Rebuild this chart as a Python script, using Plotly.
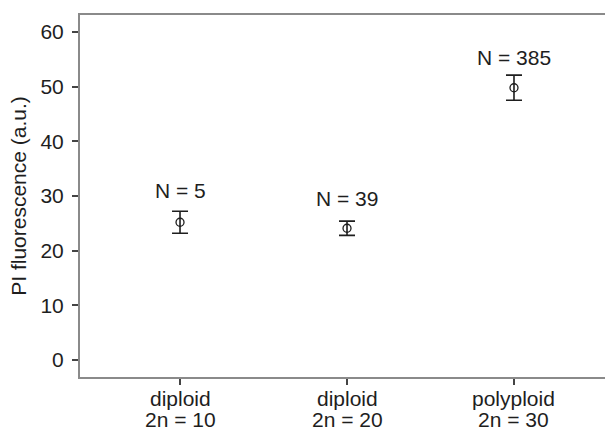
import plotly.graph_objects as go

# Data
group_names = ["diploid", "diploid", "polyploid"]
chromosome_labels = ["2n = 10", "2n = 20", "2n = 30"]
means = [25.2, 24.1, 49.8]
errors = [2.0, 1.3, 2.3]
n_labels = ["N = 5", "N = 39", "N = 385"]
label_y = [31.0, 29.6, 55.3]
y_ticks = [0, 10, 20, 30, 40, 50, 60]

xpos = list(range(len(group_names)))
font_family = "Liberation Sans, Arial, Helvetica, sans-serif"
FS = 21
TXT = "#1e1e1e"

fig = go.Figure()
fig.add_trace(go.Scatter(
    x=xpos, y=means, mode="markers",
    marker=dict(symbol="circle-open", size=8, color=TXT, line=dict(width=1.3, color=TXT)),
    error_y=dict(type="data", array=errors, visible=True, color=TXT, thickness=1.6, width=8),
    showlegend=False, hoverinfo="skip",
))

for x, y, t in zip(xpos, label_y, n_labels):
    fig.add_annotation(x=x, y=y, text=t, showarrow=False,
                       font=dict(size=FS, color=TXT, family=font_family),
                       xanchor="center", yanchor="middle")

# two-line category labels under the x axis
for x, g, c in zip(xpos, group_names, chromosome_labels):
    fig.add_annotation(x=x, xref="x", y=0, yref="paper", text=g, showarrow=False,
                       font=dict(size=FS, color=TXT, family=font_family),
                       xanchor="center", yanchor="middle", yshift=-21.5)
    fig.add_annotation(x=x, xref="x", y=0, yref="paper", text=c, showarrow=False,
                       font=dict(size=FS, color=TXT, family=font_family),
                       xanchor="center", yanchor="middle", yshift=-42.5)

fig.update_layout(
    width=605, height=431,
    margin=dict(l=80, r=0, t=15, b=54),
    paper_bgcolor="white", plot_bgcolor="white",
    font=dict(family=font_family, color=TXT),
)
fig.update_xaxes(
    range=[-0.599, 2.545], tickvals=xpos, showticklabels=False,
    showgrid=False, zeroline=False,
    showline=True, linecolor="#8a8a8a", linewidth=2, mirror=True,
    ticks="outside", ticklen=6, tickcolor="#444444", tickwidth=1.5,
)
fig.update_yaxes(
    range=[-3.1, 63.1], tickvals=y_ticks,
    showgrid=False, zeroline=False,
    showline=True, linecolor="#8a8a8a", linewidth=2, mirror=False,
    ticks="outside", ticklen=6, tickcolor="#444444", tickwidth=1.5,
    tickfont=dict(size=FS, color=TXT),
    ticklabelstandoff=4,
    title=dict(text="PI fluorescence (a.u.)", font=dict(size=FS, color=TXT), standoff=8),
)

fig.write_html(
    "out.html",
    config={"displayModeBar": False},
    post_script="document.body.style.margin='0px';document.body.style.overflow='hidden';",
)
